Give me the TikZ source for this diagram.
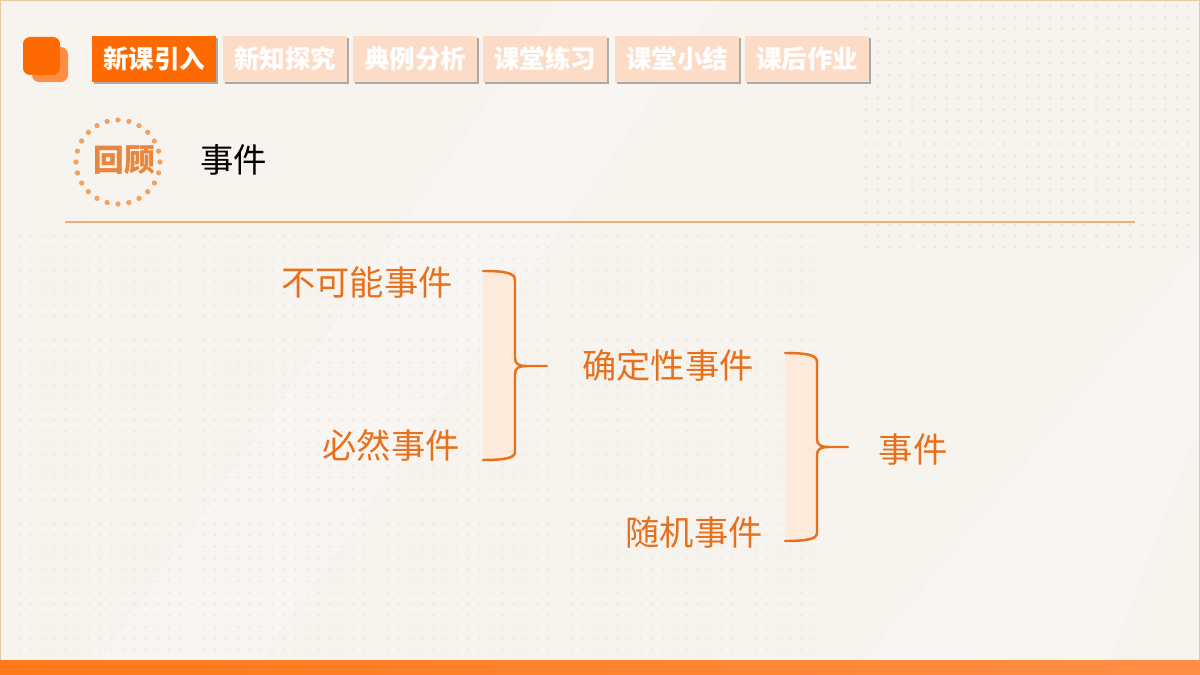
\documentclass[tikz,border=0pt]{standalone}
\usepackage{fontspec}
\setmainfont{Noto Sans CJK SC}
\usepackage{tikz}
\usetikzlibrary{shadows, calc}
\definecolor{slidebg}{HTML}{F7F4F0}
\definecolor{rimc}{HTML}{E9C7A0}
\definecolor{dotc}{HTML}{EAE4DD}
\definecolor{deeporange}{HTML}{FF6A00}
\definecolor{softorange}{HTML}{FF8E45}
\definecolor{tabpale}{HTML}{FDDCC7}
\definecolor{txtorange}{HTML}{E8701A}
\definecolor{ringc}{HTML}{F0A262}
\definecolor{rulec}{HTML}{F0AE7A}
\definecolor{bracefill}{HTML}{FDEADB}
\newcommand{\fsz}[1]{\fontsize{#1}{#1}\selectfont}

\begin{document}
\begin{tikzpicture}[x=0.02cm, y=-0.02cm,
  tab/.style={fill=tabpale, minimum width=2.48cm, minimum height=0.92cm, inner sep=0pt, text=white, font=\bfseries\fsz{14.5},
    drop shadow={shadow xshift=1.2pt, shadow yshift=-1.2pt, fill=black, opacity=0.3}},
  tabon/.style={tab, fill=deeporange},
  term/.style={text=txtorange, font=\fsz{19.5}, inner sep=0pt},
  brk/.style={draw=txtorange, line width=1.4pt, line cap=round},
  pale/.style={fill=bracefill, draw=none}
]
  \useasboundingbox (0,0) rectangle (1200,675);
  \fill[slidebg] (0,0) rectangle (1200,675);
  % soft light bands
  \fill[white, opacity=0.18] (560,0) -- (720,0) -- (250,675) -- (90,675) -- cycle;
  \fill[white, opacity=0.22] (1200,250) -- (1200,420) -- (1110,660) -- (865,660) -- cycle;
  % dot grid
  \foreach \x in {866,877.5,...,1196} \foreach \y in {6,17.5,...,250}
    \fill[dotc] (\x,\y) circle (0.85pt);
  \foreach \x in {8,19.5,...,820} \foreach \y in {236,247.5,...,656}
    \fill[dotc!70!slidebg] (\x,\y) circle (0.8pt);
  \draw[rimc, line width=0.8pt] (0.5,660) -- (0.5,0.5) -- (1199.5,0.5) -- (1199.5,660);
  \shade[left color=deeporange!90!white, right color=softorange] (0,660) rectangle (1200,675);

  % logo
  \fill[softorange, rounded corners=4pt] (32,47) rectangle (68,82);
  \fill[deeporange, rounded corners=4pt] (23,37) rectangle (60,75);

  % tabs
  \node[tabon] (tab1) at (154,59) {新课引入};
  \node[tab] (tab2) at (285,59) {新知探究};
  \node[tab] (tab3) at (415,59) {典例分析};
  \node[tab] (tab4) at (545,59) {课堂练习};
  \node[tab] (tab5) at (677,59) {课堂小结};
  \node[tab] (tab6) at (807,59) {课后作业};

  % title
  \foreach \a in {0,15,...,345}
    \fill[ringc] ($(118,162)+(\a:0.84cm)$) circle (1.5pt);
  \node[text=txtorange!85!white, font=\bfseries\fsz{17.5}, inner sep=0pt] (recap) at (124,160) {回顾};
  \node[font=\fsz{19}, inner sep=0pt, anchor=west] (topic) at (200,160) {事件};
  \draw[rulec, line width=1pt] (65,222) -- (1135,222);

  % terms
  \node[term] (never) at (367,282) {不可能事件};
  \node[term] (sure) at (391,445) {必然事件};
  \node[term] (fixed) at (668,365) {确定性事件};
  \node[term] (random) at (694,533) {随机事件};
  \node[term] (event) at (913,450) {事件};

  \coordinate (b1top) at (483,271);
  \coordinate (b1bot) at (483,460);
  \coordinate (b1tip) at (547,366);
  \coordinate (b2top) at (785,353);
  \coordinate (b2bot) at (785,541);
  \coordinate (b2tip) at (848,447);

  \fill[pale] (b1top) rectangle (515,460);
  \fill[pale] (b2top) rectangle (817,541);

  \draw[brk] (b1top) .. controls (505,271) and (515,273) .. (515,280) -- (515,358)
    .. controls (515,364) and (519,366) .. (526,366) -- (b1tip);
  \draw[brk] (b1bot) .. controls (505,460) and (515,458) .. (515,452) -- (515,374)
    .. controls (515,368) and (519,366) .. (526,366);
  \draw[brk] (b2top) .. controls (807,353) and (817,355) .. (817,362) -- (817,439)
    .. controls (817,445) and (821,447) .. (828,447) -- (b2tip);
  \draw[brk] (b2bot) .. controls (807,541) and (817,539) .. (817,533) -- (817,455)
    .. controls (817,449) and (821,447) .. (828,447);
\end{tikzpicture}
\end{document}
